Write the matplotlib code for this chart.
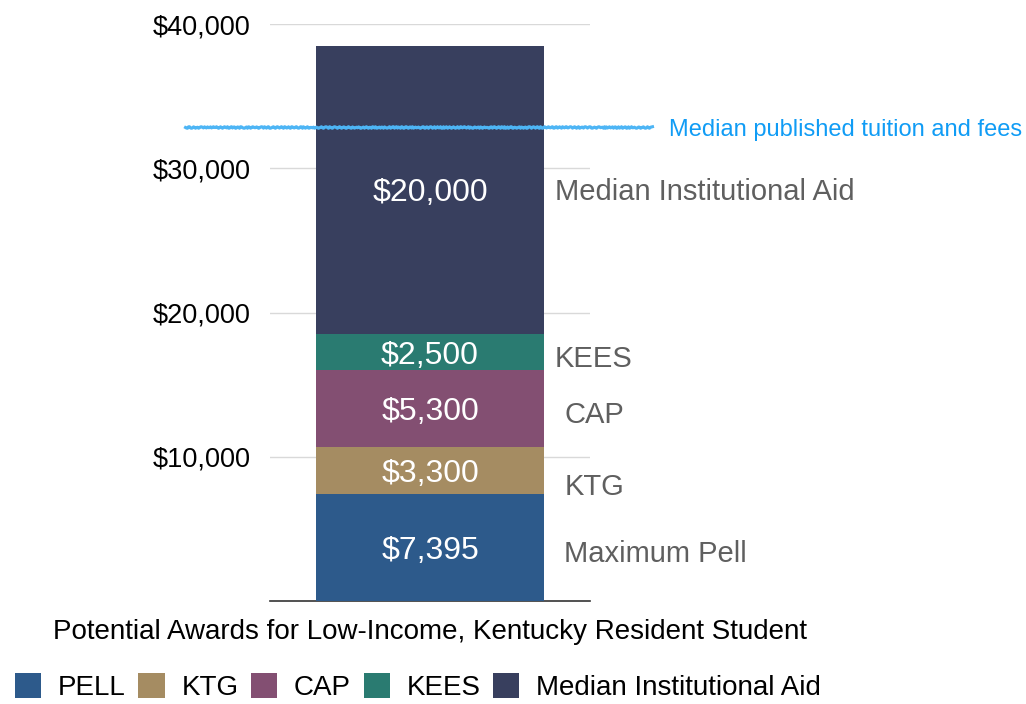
import matplotlib
matplotlib.use("Agg")
import matplotlib.pyplot as plt
from matplotlib.patches import Patch

plt.rcParams['font.family'] = ['Liberation Sans', 'DejaVu Sans']

# data
segments = ["PELL", "KTG", "CAP", "KEES", "Median Institutional Aid"]
side_labels = ["Maximum Pell", "KTG", "CAP", "KEES", "Median Institutional Aid"]
amounts = [7395, 3300, 5300, 2500, 20000]
colors = ["#2d5a8b", "#a58c62", "#834f72", "#2a7b71", "#383f5e"]
tuition = 32860
tuition_label = "Median published tuition and fees"
title = "Potential Awards for Low-Income, Kentucky Resident Student"
yticks = [10000, 20000, 30000, 40000]

fig = plt.figure(figsize=(10.26, 7.04), dpi=100)
ax = fig.add_axes([0.2632, 0.1463, 0.3119, 0.8196])

bottom = 0
mids = []
for amt, col in zip(amounts, colors):
    ax.bar(0, amt, width=0.7125, bottom=bottom, color=col, zorder=3)
    mids.append(bottom + amt / 2)
    ax.text(0, bottom + amt / 2, "${:,}".format(amt), color="white",
            ha="center", va="center_baseline", fontsize=23, zorder=4)
    bottom += amt

# side labels (small nudges so they don't crowd)
nudge = [-4.5, -11.5, -4.5, -5, -1.5]
xpos = [0.42, 0.42, 0.42, 0.39, 0.39]
for lab, m, dy, xp in zip(side_labels, mids, nudge, xpos):
    ax.annotate(lab, (xp, m), xytext=(0, dy), textcoords="offset points",
                color="#5f5f5f", fontsize=21, ha="left", va="center",
                annotation_clip=False)

ax.set_xlim(-0.5, 0.5)
ax.set_ylim(0, 40000)
ax.set_yticks(yticks)
ax.set_yticklabels(["${:,}".format(v) for v in yticks], fontsize=19.5)
ax.set_xticks([])
ax.tick_params(axis="y", length=0, pad=14)
ax.grid(axis="y", color="#d9d9d9", lw=1, zorder=0)
for s in ["left", "right", "top"]:
    ax.spines[s].set_visible(False)
ax.spines["bottom"].set_color("#333333")
ax.spines["bottom"].set_linewidth(1.2)

# tuition line, drawn past the axes
ln, = ax.plot([-0.766, 0.694], [tuition, tuition], color="#4db5f5",
              lw=2.2, clip_on=False, zorder=5)
ln.set_sketch_params(0.8, 4, 2)
ax.annotate(tuition_label, (0.747, tuition), color="#109cf5", fontsize=17,
            ha="left", va="center_baseline", annotation_clip=False)

fig.text(430 / 1026, 1 - 632 / 704, title, ha="center", va="center",
         fontsize=20)

handles = [Patch(facecolor=c, edgecolor="none") for c in colors]
fig.legend(handles, segments, loc="center", bbox_to_anchor=(418 / 1026, 1 - 687 / 704),
           ncol=5, frameon=False, fontsize=20, handlelength=0.95, handleheight=1.0,
           handletextpad=0.6, columnspacing=0.45)

fig.savefig("out.png", dpi=100)
